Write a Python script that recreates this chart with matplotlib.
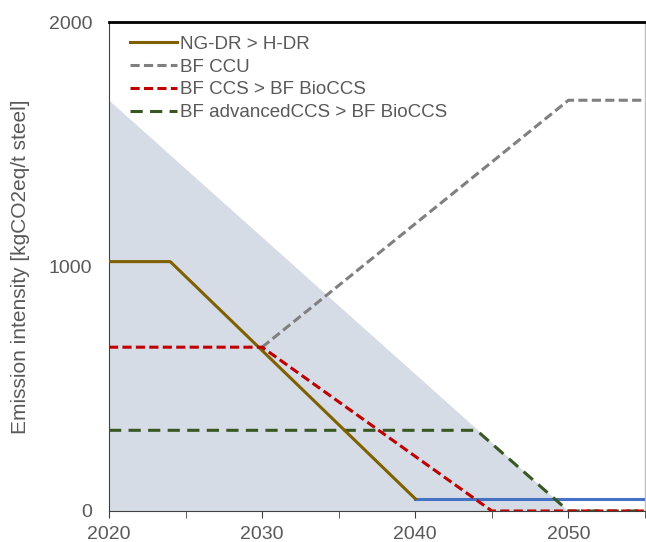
import matplotlib
matplotlib.use("Agg")
import matplotlib.pyplot as plt
from matplotlib.ticker import MultipleLocator

plt.rcParams["font.family"] = ["Liberation Sans", "DejaVu Sans"]

# emission intensity pathways [kgCO2eq/t steel]
limit_years = [2020, 2050, 2055]
limit_vals = [1680, 0, 0]

ngdr_years = [2020, 2024, 2040]
ngdr_vals = [1020, 1020, 50]

hdr_years = [2040, 2055]
hdr_vals = [50, 50]

ccu_years = [2030, 2050, 2055]
ccu_vals = [670, 1680, 1680]

ccs_years = [2020, 2030, 2045, 2055]
ccs_vals = [670, 670, 0, 0]

adv_years = [2020, 2044, 2050, 2055]
adv_vals = [330, 330, 0, 0]

TXT = "#595959"

fig = plt.figure(figsize=(6.46, 5.42), dpi=100)
ax = fig.add_axes([0.1687, 0.0572, 0.8298, 0.9022])

ax.fill_between(limit_years, limit_vals, 0, color="#D6DCE5", lw=0, zorder=1)
ax.plot(hdr_years, hdr_vals, color="#4472C4", lw=2.2, zorder=3)
ax.plot(ngdr_years, ngdr_vals, color="#7F6000", lw=2.2, label="NG-DR > H-DR", zorder=4)
ax.plot(ccu_years, ccu_vals, color="#808080", lw=2.2, ls=(0, (3, 1.4)), label="BF CCU", zorder=3)
ax.plot(adv_years, adv_vals, color="#385723", lw=2.2, ls=(0, (4, 2.4)),
        label="BF advancedCCS > BF BioCCS", zorder=3)
ax.plot(ccs_years, ccs_vals, color="#C00000", lw=2.2, ls=(0, (3, 1.4)),
        label="BF CCS > BF BioCCS", zorder=4)

ax.set_xlim(2020, 2055)
ax.set_ylim(0, 2000)
ax.xaxis.set_major_locator(MultipleLocator(10))
ax.xaxis.set_minor_locator(MultipleLocator(5))
ax.set_yticks([0, 1000, 2000])
ax.tick_params(axis="x", which="both", direction="out", length=5, color="#404040",
               labelsize=14, labelcolor=TXT, pad=6)
ax.tick_params(axis="y", length=0, labelsize=14, labelcolor=TXT, pad=12)

ax.spines["top"].set_linewidth(2)
ax.spines["top"].set_color("black")
ax.spines["right"].set_color("#BFBFBF")
ax.spines["right"].set_linewidth(1)
ax.spines["left"].set_color("#404040")
ax.spines["bottom"].set_color("#404040")

ax.set_ylabel("Emission intensity [kgCO2eq/t steel]", fontsize=15, color=TXT)
ax.yaxis.set_label_coords(-0.147, 0.5)

h, l = ax.get_legend_handles_labels()
order = [0, 1, 3, 2]
ax.legend([h[i] for i in order], [l[i] for i in order], loc="upper left",
          bbox_to_anchor=(0.039, 0.972), borderaxespad=0, borderpad=0,
          frameon=False, fontsize=13.5, handlelength=2.5,
          handletextpad=0.15, labelspacing=0.3, labelcolor=TXT)

fig.savefig("out.png", dpi=100)
